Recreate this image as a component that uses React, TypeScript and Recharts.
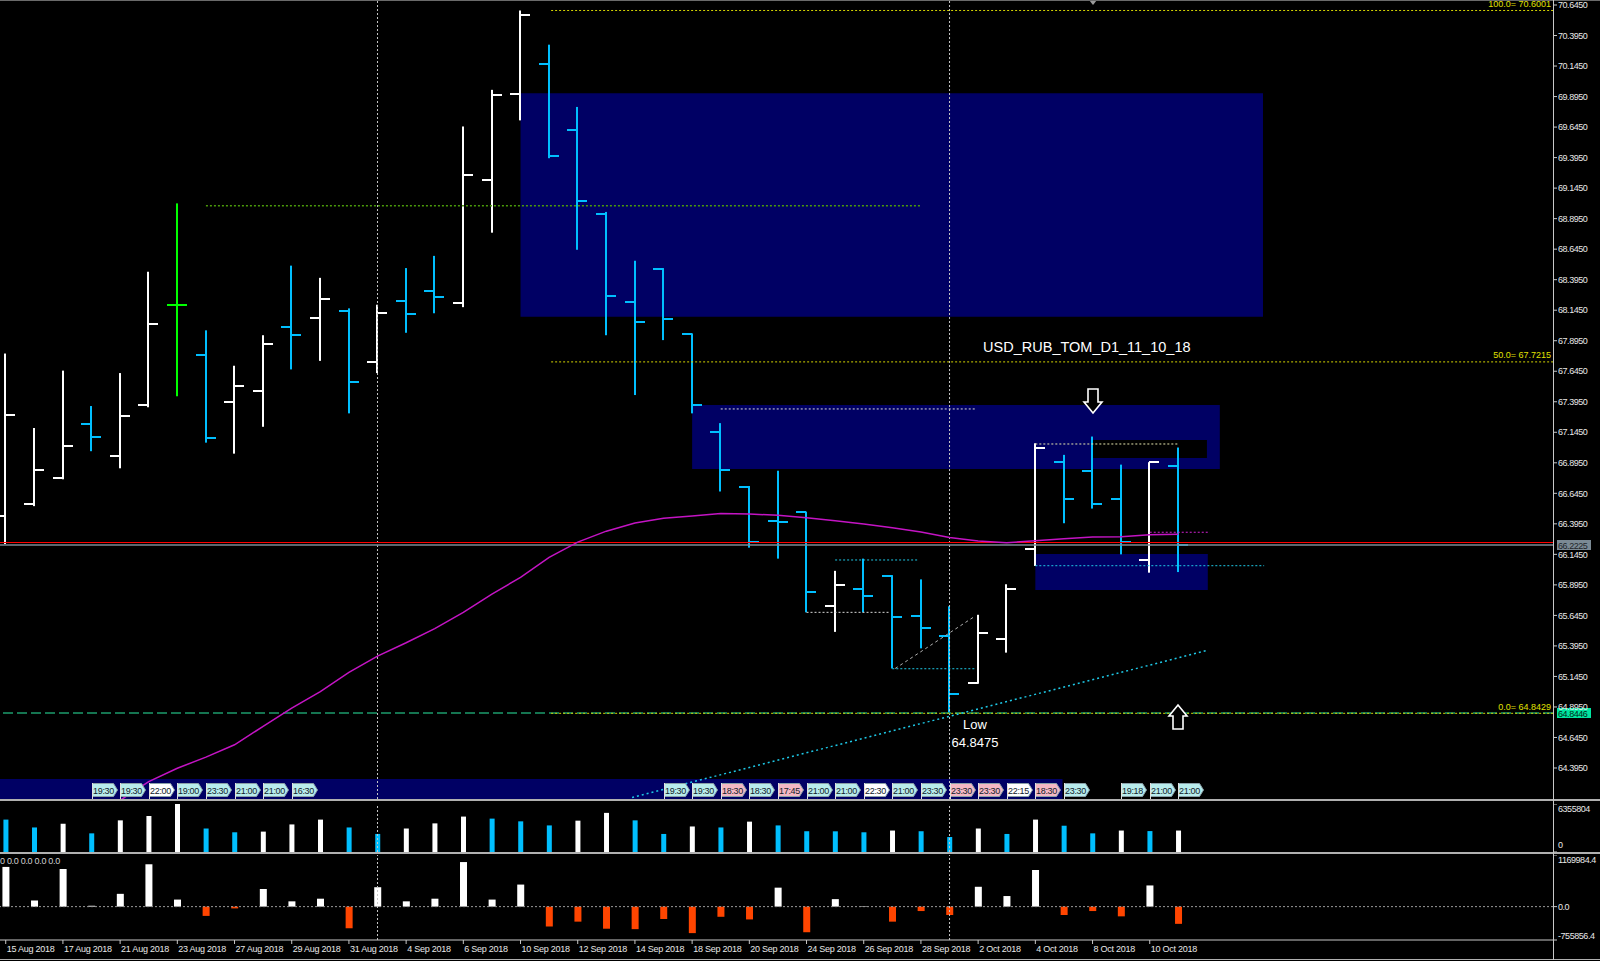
import React from 'react';
import {
  ComposedChart,
  Bar,
  Line,
  Scatter,
  Cell,
  XAxis,
  YAxis,
  ReferenceLine,
  ReferenceArea,
  ReferenceDot,
} from 'recharts';

// ---- data ----
const dates = [
  '15 Aug 2018', '16 Aug 2018', '17 Aug 2018', '20 Aug 2018', '21 Aug 2018', '22 Aug 2018',
  '23 Aug 2018', '24 Aug 2018', '27 Aug 2018', '28 Aug 2018', '29 Aug 2018', '30 Aug 2018',
  '31 Aug 2018', '3 Sep 2018', '4 Sep 2018', '5 Sep 2018', '6 Sep 2018', '7 Sep 2018',
  '10 Sep 2018', '11 Sep 2018', '12 Sep 2018', '13 Sep 2018', '14 Sep 2018', '17 Sep 2018',
  '18 Sep 2018', '19 Sep 2018', '20 Sep 2018', '21 Sep 2018', '24 Sep 2018', '25 Sep 2018',
  '26 Sep 2018', '27 Sep 2018', '28 Sep 2018', '1 Oct 2018', '2 Oct 2018', '3 Oct 2018',
  '4 Oct 2018', '5 Oct 2018', '8 Oct 2018', '9 Oct 2018', '10 Oct 2018', '11 Oct 2018',
];

const opens = [
  66.46, 66.56, 66.77, 67.21, 66.95, 67.37, 68.19, 67.78, 67.39, 67.48, 68.01, 68.08,
  68.14, 67.72, 68.22, 68.3, 68.2, 69.21, 69.92, 70.16, 69.62, 68.93, 68.21, 68.48,
  67.95, 67.15, 66.7, 66.42, 66.49, 65.72, 65.86, 65.97, 65.64, 65.48, 65.09, 65.45,
  66.19, 66.9, 66.83, 66.6, 66.1, 66.87,
];
const highs = [
  67.79, 67.18, 67.65, 67.36, 67.63, 68.46, 69.02, 67.98, 67.69, 67.94, 68.51, 68.41,
  68.16, 68.19, 68.49, 68.59, 69.65, 69.95, 70.6, 70.32, 69.81, 68.95, 68.55, 68.49,
  67.955, 67.22, 66.705, 66.83, 66.495, 66.01, 66.11, 65.975, 65.94, 65.72, 65.65, 65.9,
  67.055, 66.96, 67.11, 66.88, 66.9, 67.02,
];
const lows = [
  66.23, 66.54, 66.76, 66.99, 66.85, 67.35, 67.44, 67.06, 66.97, 67.19, 67.66, 67.73,
  67.3, 67.63, 67.96, 68.12, 68.17, 68.78, 69.7, 69.39, 68.64, 67.94, 67.45, 67.9,
  67.3, 66.66, 66.2, 66.11, 65.67, 65.51, 65.67, 65.21, 65.375, 64.8475, 65.085, 65.34,
  66.05, 66.4, 66.52, 66.145, 65.995, 66.0,
];
const closes = [
  67.29, 66.84, 67.03, 67.11, 67.28, 68.03, 68.19, 67.1, 67.52, 67.87, 67.94, 68.24,
  67.56, 68.12, 68.11, 68.25, 69.25, 69.91, 70.56, 69.41, 69.04, 68.26, 68.05, 68.07,
  67.37, 66.84, 66.25, 66.41, 65.84, 65.89, 65.8, 65.63, 65.54, 65.0, 65.5, 65.86,
  67.02, 66.6, 66.56, 66.25, 66.9, 66.2225,
];
// moving average (magenta)
const movingAvg = [
  null, null, null, null, 64.13, 64.284, 64.393, 64.484, 64.585, 64.736, 64.886, 65.02,
  65.178, 65.312, 65.421, 65.537, 65.67, 65.82, 65.956, 66.12, 66.245, 66.335, 66.401, 66.44,
  66.46, 66.48, 66.475, 66.465, 66.445, 66.42, 66.393, 66.363, 66.328, 66.284, 66.254, 66.24,
  66.257, 66.273, 66.287, 66.29, 66.306, 66.309,
];
const volumes = [
  4290000, 3250000, 3750000, 2470000, 4190000, 4770000, 6355804, 3110000, 2610000, 2700000,
  3650000, 4290000, 3250000, 2390000, 3110000, 3790000, 4690000, 4420000, 4060000, 3520000,
  4150000, 5180000, 4190000, 2390000, 3380000, 3250000, 4020000, 3520000, 2750000, 2740000,
  2610000, 2840000, 2750000, 1990000, 3110000, 2390000, 4290000, 3480000, 2470000, 2840000,
  2770000, 2840000,
];
const oscillator = [
  900000, 140000, 850000, 20000, 290000, 960000, 160000, -210000, -40000, 400000, 120000, 180000,
  -490000, 440000, 120000, 180000, 1010000, 160000, 500000, -450000, -340000, -500000, -510000, -280000,
  -600000, -230000, -290000, 430000, -580000, 170000, 10000, -340000, -100000, -190000, 450000, 240000,
  830000, -190000, -100000, -220000, 480000, -390000,
];

const priceTicks = [
  70.645, 70.395, 70.145, 69.895, 69.645, 69.395, 69.145, 68.895, 68.645, 68.395, 68.145, 67.895,
  67.645, 67.395, 67.145, 66.895, 66.645, 66.395, 66.145, 65.895, 65.645, 65.395, 65.145, 64.895,
  64.645, 64.395,
];
const volTicks = [0, 6355804];
const oscTicks = [-755856.4, 0, 1169984.4];
const dateTicks = [0, 2, 4, 6, 8, 10, 12, 14, 16, 18, 20, 22, 24, 26, 28, 30, 32, 34, 36, 38, 40];
const monthStarts = [13, 33];

// calendar event flags in the bottom strip
const tagBars = [3, 4, 5, 6, 7, 8, 9, 10, 23, 24, 25, 26, 27, 28, 29, 30, 31, 32, 33, 34, 35, 36, 37, 39, 40, 41];
const tagTimes = [
  '19:30', '19:30', '22:00', '19:00', '23:30', '21:00', '21:00', '16:30',
  '19:30', '19:30', '18:30', '18:30', '17:45', '21:00', '21:00', '22:30', '21:00', '23:30',
  '23:30', '23:30', '22:15', '18:30', '23:30', '19:18', '21:00', '21:00',
];
const tagKinds = [
  'c', 'c', 'w', 'c', 'c', 'c', 'c', 'c',
  'c', 'c', 'p', 'c', 'p', 'c', 'c', 'w', 'c', 'c',
  'p', 'p', 'w', 'p', 'c', 'c', 'c', 'c',
];

const fiboLevels = [
  { text: '100.0= 70.6001', price: 70.6001 },
  { text: '50.0= 67.7215', price: 67.7215 },
  { text: '0.0= 64.8429', price: 64.8429 },
];

const BID = 66.2225;
const LOW_LINE = 64.8446;

// ---- layout / style ----
const FONT = "'Liberation Sans', Arial, sans-serif";
const AXIS_TEXT = { fill: '#e8e8e8', fontSize: 9, fontFamily: FONT, letterSpacing: -0.45 };
const UP = '#FFFFFF';
const DOWN = '#00BFFF';
const DOJI = '#00FF00';
const NAVY = '#000064';
const X_DOMAIN: [number, number] = [-0.2, 54.1];
const PRICE_DOMAIN: [number, number] = [64.141, 70.686];

const rows = dates.map((d, i) => ({
  i,
  date: d,
  o: opens[i],
  h: highs[i],
  l: lows[i],
  c: closes[i],
  range: [lows[i], highs[i]],
  ma: movingAvg[i],
  vol: volumes[i],
  osc: oscillator[i],
}));

const tagRows = tagBars.map((b, k) => ({ i: b, p: 64.215, t: tagTimes[k], kind: tagKinds[k] }));

function OhlcBar(props: any) {
  const { x, y, width, height, payload } = props;
  if (x == null || y == null || !payload) return null;
  const cx = Math.round(x + width / 2);
  const top = Math.min(y, y + height);
  const bot = Math.max(y, y + height);
  const span = payload.h - payload.l || 1;
  const py = (p: number) => top + ((payload.h - p) / span) * (bot - top);
  const col = payload.c > payload.o ? UP : payload.c < payload.o ? DOWN : DOJI;
  const yo = Math.round(py(payload.o));
  const yc = Math.round(py(payload.c));
  return (
    <g>
      <rect x={cx - 1} y={top} width={2} height={Math.max(bot - top, 1)} fill={col} />
      <rect x={cx - 10} y={yo - 1} width={10} height={2} fill={col} />
      <rect x={cx} y={yc - 1} width={10} height={2} fill={col} />
    </g>
  );
}

function EventTag(props: any) {
  const { cx, cy, payload } = props;
  if (cx == null) return null;
  const x0 = Math.round(cx);
  const top = Math.round(cy) - 7;
  const bot = top + 14;
  const fill = payload.kind === 'p' ? '#F4B8C4' : payload.kind === 'w' ? '#FFFFFF' : '#B8ECEC';
  return (
    <g>
      <polygon
        points={`${x0 + 0.5},${top + 0.5} ${x0 + 21.5},${top + 0.5} ${x0 + 25.5},${top + 7} ${x0 + 21.5},${bot - 0.5} ${x0 + 0.5},${bot - 0.5}`}
        fill={fill}
        stroke="#8aa0a8"
        strokeWidth={1}
      />
      <line x1={x0 + 0.5} y1={top} x2={x0 + 0.5} y2={bot + 2} stroke="#e0e0e0" />
      <text x={x0 + 11.5} y={bot - 3.5} textAnchor="middle" fontSize={9} fill="#10202a" fontFamily={FONT} letterSpacing={-0.3}>
        {payload.t}
      </text>
    </g>
  );
}

function DateTick(props: any) {
  const { x, y, payload } = props;
  return (
    <g>
      <line x1={x} y1={y - 4} x2={x} y2={y} stroke="#c8c8c8" />
      <text x={x + 1} y={y + 8} fontSize={9} fill="#e8e8e8" fontFamily={FONT} letterSpacing={-0.25}>
        {dates[payload.value]}
      </text>
    </g>
  );
}

function VolTick(props: any) {
  const { x, y, payload } = props;
  const isTop = payload.value > 0;
  return (
    <text x={x} y={isTop ? y + 8 : y - 4} {...AXIS_TEXT}>
      {String(payload.value)}
    </text>
  );
}

function OscTick(props: any) {
  const { x, y, payload } = props;
  const v = payload.value;
  const dy = v > 0 ? 8 : v < 0 ? -1.5 : 3.5;
  return (
    <text x={x} y={y + dy} {...AXIS_TEXT}>
      {v.toFixed(1)}
    </text>
  );
}

const textDot = (lines: string[], size: number, anchor: 'start' | 'middle' | 'end', dy: number, color = '#FFFFFF') =>
  function TextShape(p: any) {
    return (
      <text x={p.cx} y={p.cy + dy} fontSize={size} fill={color} fontFamily={FONT} textAnchor={anchor}>
        {lines.map((t, k) => (
          <tspan key={k} x={p.cx} dy={k === 0 ? 0 : size * 1.42}>
            {t}
          </tspan>
        ))}
      </text>
    );
  };

const priceBadge = (text: string, bg: string, fg: string) =>
  function Badge(p: any) {
    const x = Math.round(p.cx) + 4;
    const y = Math.round(p.cy);
    return (
      <g>
        <rect x={x} y={y - 5} width={34} height={10} fill={bg} />
        <text x={x + 1} y={y + 3.5} fontSize={9} fill={fg} fontFamily={FONT} letterSpacing={-0.45}>
          {text}
        </text>
      </g>
    );
  };

function Arrow(props: any) {
  const { cx, cy, up } = props;
  const x = Math.round(cx);
  const y = Math.round(cy);
  const pts = up
    ? [[x, y - 12], [x + 9, y - 1], [x + 5, y - 1], [x + 5, y + 12], [x - 5, y + 12], [x - 5, y - 1], [x - 9, y - 1]]
    : [[x, y + 12], [x + 9, y + 1], [x + 5, y + 1], [x + 5, y - 12], [x - 5, y - 12], [x - 5, y + 1], [x - 9, y + 1]];
  return <polygon points={pts.map((q) => q.join(',')).join(' ')} fill="#000" stroke="#FFFFFF" strokeWidth={1.6} />;
}

function TopMarker(props: any) {
  const x = Math.round(props.cx);
  return <polygon points={`${x - 4},0 ${x + 4},0 ${x},5`} fill="#9a9a9a" />;
}

export default function App() {
  return (
    <div
      style={{
        position: 'fixed',
        left: 0,
        top: 0,
        width: 1600,
        height: 961,
        background: '#000',
        overflow: 'hidden',
        fontFamily: FONT,
      }}
    >
      {/* price panel */}
      <div style={{ position: 'absolute', left: 0, top: 0 }}>
        <ComposedChart width={1600} height={799} data={rows} margin={{ top: 0, right: 0, bottom: 0, left: 0 }}>
          <XAxis type="number" dataKey="i" domain={X_DOMAIN} hide allowDataOverflow />
          <YAxis
            orientation="right"
            width={47}
            domain={PRICE_DOMAIN}
            allowDataOverflow
            ticks={priceTicks}
            interval={0}
            tickFormatter={(v: number) => v.toFixed(4)}
            tick={AXIS_TEXT}
            tickSize={4}
            tickMargin={1}
            tickLine={{ stroke: '#c8c8c8' }}
            axisLine={false}
          />

          {/* zones */}
          <ReferenceArea x1={18} x2={43.96} y1={68.092} y2={69.922} fill={NAVY} fillOpacity={1} stroke="none" />
          <ReferenceArea x1={24} x2={42.45} y1={66.844} y2={67.368} fill={NAVY} fillOpacity={1} stroke="none" />
          <ReferenceArea x1={37.97} x2={42} y1={66.934} y2={67.082} fill="#000" fillOpacity={1} stroke="none" />
          <ReferenceArea x1={36} x2={42.03} y1={65.853} y2={66.148} fill={NAVY} fillOpacity={1} stroke="none" />
          <ReferenceArea x1={-0.2} x2={36.95} y1={64.141} y2={64.305} fill={NAVY} fillOpacity={1} stroke="none" />

          {monthStarts.map((m) => (
            <ReferenceLine key={m} x={m} stroke="#c8c8c8" strokeDasharray="2 2" />
          ))}

          {/* horizontal levels */}
          <ReferenceLine y={66.242} stroke="#FF0000" strokeWidth={1} />
          <ReferenceLine y={BID} stroke="#7b8a94" strokeWidth={1.5} />
          <ReferenceLine y={LOW_LINE} stroke="#1c9c6c" strokeWidth={1.5} strokeDasharray="10 4" />
          {fiboLevels.map((f) => (
            <ReferenceLine
              key={f.text}
              segment={[
                { x: 19.07, y: f.price },
                { x: 54.1, y: f.price },
              ]}
              stroke="#D4D400"
              strokeDasharray="2 2"
            />
          ))}
          <ReferenceLine segment={[{ x: 7, y: 69.0 }, { x: 31.97, y: 69.0 }]} stroke="#4a9a0a" strokeWidth={1.5} strokeDasharray="2 2" />
          <ReferenceLine segment={[{ x: 25, y: 67.336 }, { x: 33.9, y: 67.336 }]} stroke="#d8d8d8" strokeDasharray="2 2" />
          <ReferenceLine segment={[{ x: 29, y: 66.099 }, { x: 31.9, y: 66.099 }]} stroke="#1ec8e6" strokeDasharray="2 2" />
          <ReferenceLine segment={[{ x: 28, y: 65.67 }, { x: 30.9, y: 65.67 }]} stroke="#d8d8d8" strokeDasharray="2 2" />
          <ReferenceLine segment={[{ x: 31, y: 65.208 }, { x: 33.9, y: 65.208 }]} stroke="#1ec8e6" strokeDasharray="2 2" />
          <ReferenceLine segment={[{ x: 36, y: 66.052 }, { x: 44, y: 66.052 }]} stroke="#1ec8e6" strokeDasharray="2 2" />
          <ReferenceLine segment={[{ x: 36, y: 67.049 }, { x: 41, y: 67.049 }]} stroke="#e8e8b0" strokeDasharray="2 2" />
          <ReferenceLine segment={[{ x: 40, y: 66.326 }, { x: 42.1, y: 66.326 }]} stroke="#d020d0" strokeDasharray="2 2" />
          <ReferenceLine segment={[{ x: 31.1, y: 65.21 }, { x: 33.9, y: 65.64 }]} stroke="#b0b0b0" strokeDasharray="3 3" />
          <ReferenceLine segment={[{ x: 21.9, y: 64.154 }, { x: 41.97, y: 65.356 }]} stroke="#1ec8e6" strokeWidth={1.5} strokeDasharray="2 3" />

          <Bar dataKey="range" barSize={22} shape={<OhlcBar />} isAnimationActive={false} />
          <Line dataKey="ma" stroke="#C414C4" strokeWidth={1.5} dot={false} isAnimationActive={false} connectNulls={false} />
          <Scatter data={tagRows} dataKey="p" shape={<EventTag />} isAnimationActive={false} />

          {fiboLevels.map((f) => (
            <ReferenceDot key={f.text + 'l'} x={54.03} y={f.price} r={0} ifOverflow="visible" shape={textDot([f.text], 9, 'end', -3.5, '#E0E000')} />
          ))}
          <ReferenceDot x={54.1} y={BID} r={0} ifOverflow="visible" shape={priceBadge('66.2225', '#7b8a94', '#1e262a')} />
          <ReferenceDot x={54.1} y={LOW_LINE} r={0} ifOverflow="visible" shape={priceBadge('64.8446', '#00E6A0', '#002a18')} />
          <ReferenceDot x={37.8} y={67.844} r={0} shape={textDot(['USD_RUB_TOM_D1_11_10_18'], 14.5, 'middle', 5)} />
          <ReferenceDot x={33.89} y={64.7} r={0} shape={textDot(['Low', '64.8475'], 13, 'middle', -2)} />
          <ReferenceDot x={38} y={67.405} r={0} shape={<Arrow />} />
          <ReferenceDot x={41} y={64.809} r={0} shape={<Arrow up />} />
          <ReferenceDot x={38} y={70.66} r={0} ifOverflow="visible" shape={<TopMarker />} />
        </ComposedChart>
      </div>

      {/* volume panel */}
      <div style={{ position: 'absolute', left: 0, top: 804 }}>
        <ComposedChart width={1600} height={48} data={rows} margin={{ top: 0, right: 0, bottom: 0, left: 0 }}>
          <XAxis type="number" dataKey="i" domain={X_DOMAIN} hide allowDataOverflow />
          <YAxis
            orientation="right"
            width={47}
            domain={[0, 6355804]}
            allowDataOverflow
            ticks={volTicks}
            interval={0}
            tick={<VolTick />}
            tickSize={4}
            tickMargin={1}
            tickLine={{ stroke: '#c8c8c8' }}
            axisLine={false}
          />
          {monthStarts.map((m) => (
            <ReferenceLine key={m} x={m} stroke="#c8c8c8" strokeDasharray="2 2" />
          ))}
          <Bar dataKey="vol" barSize={5} isAnimationActive={false}>
            {rows.map((r, k) => (
              <Cell key={k} fill={k > 0 && r.vol > volumes[k - 1] ? UP : DOWN} />
            ))}
          </Bar>
        </ComposedChart>
      </div>

      {/* oscillator panel */}
      <div style={{ position: 'absolute', left: 0, top: 855 }}>
        <ComposedChart width={1600} height={106} data={rows} margin={{ top: 0, right: 0, bottom: 0, left: 0 }}>
          <XAxis
            type="number"
            dataKey="i"
            domain={X_DOMAIN}
            allowDataOverflow
            ticks={dateTicks}
            interval={0}
            height={21}
            tick={<DateTick />}
            tickSize={4}
            tickMargin={0}
            tickLine={false}
            axisLine={{ stroke: '#c8c8c8' }}
          />
          <YAxis
            orientation="right"
            width={47}
            domain={[-755856.4, 1169984.4]}
            allowDataOverflow
            ticks={oscTicks}
            interval={0}
            tick={<OscTick />}
            tickSize={4}
            tickMargin={1}
            tickLine={{ stroke: '#c8c8c8' }}
            axisLine={false}
          />
          {monthStarts.map((m) => (
            <ReferenceLine key={m} x={m} stroke="#c8c8c8" strokeDasharray="2 2" />
          ))}
          <ReferenceLine y={0} stroke="#9a9a9a" strokeDasharray="2 2" />
          <Bar dataKey="osc" barSize={7} isAnimationActive={false}>
            {rows.map((r, k) => (
              <Cell key={k} fill={r.osc >= 0 ? UP : '#FF4500'} />
            ))}
          </Bar>
        </ComposedChart>
      </div>

      <div style={{ position: 'absolute', left: 0, top: 856, fontSize: 9, lineHeight: '11px', color: '#d0d0d0', letterSpacing: -0.3 }}>
        0 0.0 0.0 0.0 0.0
      </div>

      {/* frame lines */}
      <div style={{ position: 'absolute', left: 0, top: 0, width: 1600, height: 1, background: '#6a6a6a' }} />
      <div style={{ position: 'absolute', left: 0, top: 799, width: 1600, height: 2, background: '#b0b0b0' }} />
      <div style={{ position: 'absolute', left: 0, top: 852, width: 1600, height: 2, background: '#b0b0b0' }} />
      <div style={{ position: 'absolute', left: 0, top: 959, width: 1600, height: 1, background: '#b0b0b0' }} />
      <div style={{ position: 'absolute', left: 1553, top: 0, width: 1, height: 960, background: '#c8c8c8' }} />
    </div>
  );
}
